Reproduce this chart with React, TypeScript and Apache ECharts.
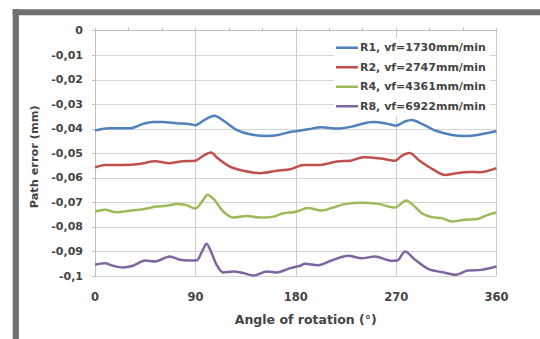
import React, { useEffect, useRef } from "react";
import * as echarts from "echarts";

const seriesNames = [
  "R1, vf=1730mm/min",
  "R2, vf=2747mm/min",
  "R4, vf=4361mm/min",
  "R8, vf=6922mm/min",
];

const xTickLabels = [0, 90, 180, 270, 360];

const blueAngles = [0, 13, 31, 43, 52, 61, 73, 85, 90, 99, 107, 115, 127, 139, 154, 163, 175, 180, 191, 203, 218, 230, 239, 249, 260, 270, 278, 284, 293, 305, 320, 331, 343, 360];
const blueValues = [-0.0407, -0.0398, -0.0398, -0.038, -0.0372, -0.0372, -0.0377, -0.0381, -0.0385, -0.0361, -0.0347, -0.0366, -0.0404, -0.0422, -0.0429, -0.0426, -0.0413, -0.041, -0.0402, -0.0394, -0.0399, -0.0391, -0.038, -0.0372, -0.0377, -0.0387, -0.037, -0.0364, -0.038, -0.0407, -0.0425, -0.0429, -0.0425, -0.0409];

const redAngles = [0, 9, 25, 40, 54, 67, 79, 90, 97, 104, 110, 121, 133, 148, 163, 175, 187, 202, 217, 229, 241, 256, 269, 275, 282, 291, 303, 314, 324, 336, 345, 360];
const redValues = [-0.0557, -0.0547, -0.0547, -0.0543, -0.0532, -0.054, -0.0532, -0.053, -0.051, -0.0497, -0.052, -0.0554, -0.0571, -0.0581, -0.0571, -0.0565, -0.0547, -0.0547, -0.0533, -0.053, -0.0516, -0.0521, -0.053, -0.051, -0.0499, -0.053, -0.0565, -0.0588, -0.0581, -0.0576, -0.0577, -0.056];

const greenAngles = [0, 9, 19, 31, 43, 55, 64, 73, 82, 90, 97, 101, 107, 115, 124, 136, 148, 160, 169, 180, 191, 203, 212, 224, 239, 254, 269, 279, 285, 293, 302, 311, 320, 331, 343, 352, 360];
const greenValues = [-0.0737, -0.073, -0.074, -0.0734, -0.0728, -0.0717, -0.0714, -0.0706, -0.0711, -0.0725, -0.069, -0.0669, -0.069, -0.0737, -0.0762, -0.0755, -0.0762, -0.0758, -0.0744, -0.0738, -0.0723, -0.0733, -0.0723, -0.0707, -0.0701, -0.0706, -0.0721, -0.0692, -0.071, -0.0744, -0.076, -0.0764, -0.0778, -0.0771, -0.0768, -0.0751, -0.0741];

const purpleAngles = [0, 9, 16, 25, 34, 45, 54, 67, 76, 85, 91, 96, 100, 104, 109, 115, 124, 133, 142, 154, 163, 175, 184, 188, 200, 212, 227, 239, 251, 266, 271, 278, 287, 299, 311, 323, 334, 346, 360];
const purpleValues = [-0.0954, -0.0948, -0.0958, -0.0965, -0.0958, -0.0937, -0.0941, -0.092, -0.0934, -0.0937, -0.0937, -0.09, -0.0869, -0.09, -0.0954, -0.0986, -0.0982, -0.0988, -0.0998, -0.0982, -0.0986, -0.0968, -0.0958, -0.095, -0.0956, -0.0937, -0.0917, -0.0928, -0.092, -0.0938, -0.0937, -0.09, -0.0934, -0.0972, -0.0984, -0.0995, -0.0978, -0.0975, -0.0961];

const colors = ["#4F81BD", "#C0504D", "#9BBB59", "#8064A2"];

const zip = (xs: number[], ys: number[]) => xs.map((x, i) => [x, ys[i]]);

export default function App() {
  const ref = useRef<HTMLDivElement>(null);
  useEffect(() => {
    if (!ref.current) return;
    const chart = echarts.init(ref.current, null, { renderer: "svg" });
    const allData = [
      zip(blueAngles, blueValues),
      zip(redAngles, redValues),
      zip(greenAngles, greenValues),
      zip(purpleAngles, purpleValues),
    ];
    const font = "'DejaVu Sans', sans-serif";
    const textColor = "#444444";
    chart.setOption({
      animation: false,
      backgroundColor: "#ffffff",
      grid: { left: 95, right: 43.5, top: 30.7, bottom: 63 },
      graphic: [
        { type: "rect", shape: { x: 12.7, y: 9.3, width: 540, height: 5.9 }, style: { fill: "#6e6e6e" }, z: 100 },
        { type: "rect", shape: { x: 12.7, y: 9.3, width: 6.2, height: 340 }, style: { fill: "#6e6e6e" }, z: 100 },
      ],
      legend: {
        data: seriesNames,
        orient: "vertical",
        left: 334,
        top: 38,
        icon: "rect",
        itemWidth: 22,
        itemHeight: 2.5,
        itemGap: 6,
        backgroundColor: "#ffffff",
        padding: [3, 4, 3, 2],
        textStyle: {
          fontFamily: font,
          fontSize: 11,
          fontWeight: "bold",
          color: textColor,
          lineHeight: 13.5,
          padding: [0, 0, 0, -3],
        },
      },
      xAxis: [
        {
          type: "value",
          position: "bottom",
          min: 0,
          max: 360,
          interval: 90,
          axisLine: { show: false },
          axisTick: { show: false },
          axisLabel: {
            margin: 15,
            fontFamily: font,
            fontSize: 11.5,
            fontWeight: "bold",
            color: textColor,
            formatter: (v: number) => (xTickLabels.includes(v) ? String(v) : ""),
          },
          splitLine: { show: true, lineStyle: { color: "#cccccc", width: 1 } },
          name: "Angle of rotation (°)",
          nameLocation: "middle",
          nameGap: 37,
          nameTextStyle: {
            fontFamily: font,
            fontSize: 12.5,
            fontWeight: "bold",
            color: textColor,
            padding: [0, 0, 0, 20],
          },
        },
        {
          type: "value",
          position: "top",
          min: 0,
          max: 360,
          interval: 30,
          axisLine: { show: true, lineStyle: { color: "#bfbfbf", width: 1 } },
          axisTick: { show: true, length: 3, lineStyle: { color: "#bfbfbf" } },
          axisLabel: { show: false },
          splitLine: { show: false },
        },
      ],
      yAxis: {
        type: "value",
        min: -0.1,
        max: 0,
        interval: 0.01,
        axisLine: { show: true, lineStyle: { color: "#bfbfbf", width: 1 } },
        axisTick: { show: true, length: 3, lineStyle: { color: "#bfbfbf" } },
        axisLabel: {
          margin: 12,
          fontFamily: font,
          fontSize: 11,
          fontWeight: "bold",
          color: textColor,
          formatter: (v: number) => String(Math.round(v * 100) / 100).replace(".", ","),
        },
        splitLine: { show: true, lineStyle: { color: "#d4d4d4", width: 1 } },
        name: "Path error (mm)",
        nameLocation: "middle",
        nameGap: 52,
        nameRotate: 90,
        nameTextStyle: {
          fontFamily: font,
          fontSize: 11.3,
          fontWeight: "bold",
          color: textColor,
          padding: [0, 7, 0, 0],
        },
      },
      series: seriesNames.map((name, i) => ({
        name,
        type: "line",
        xAxisIndex: 0,
        data: allData[i],
        smooth: 0.3,
        showSymbol: false,
        symbol: "none",
        color: colors[i],
        lineStyle: { color: colors[i], width: 2.5 },
      })),
    });
    return () => chart.dispose();
  }, []);
  return (
    <div
      ref={ref}
      style={{ position: "fixed", left: 0, top: 0, width: 540, height: 339 }}
    />
  );
}
